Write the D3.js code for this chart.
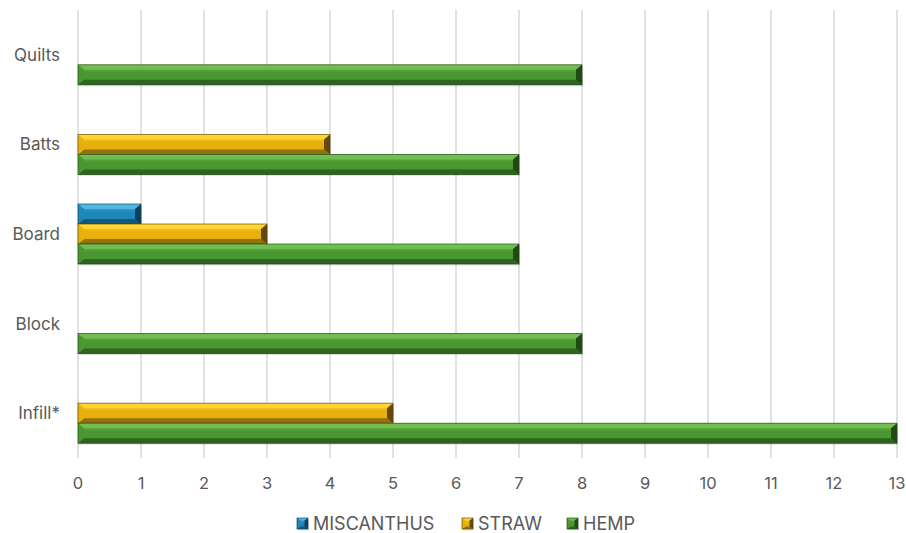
<!DOCTYPE html>
<html><head><meta charset="utf-8">
<script src="https://cdn.jsdelivr.net/npm/d3@7"></script>
<style>body{margin:0;background:#fff}svg{display:block}</style>
</head><body>
<svg id="c" width="906" height="533"></svg>
<script>
const categories = ["Quilts","Batts","Board","Block","Infill*"];
const seriesNames = ["MISCANTHUS","STRAW","HEMP"];
const miscanthus = [0,0,1,0,0];
const straw = [0,4,3,0,5];
const hemp = [8,7,7,8,13];
const xTicks = [0,1,2,3,4,5,6,7,8,9,10,11,12,13];

const seriesValues = [miscanthus, straw, hemp];
const palette = {
  MISCANTHUS:{light:"#52b8e4", mid:"#1f86b8", dark:"#13597c", edge:"#0c3d57"},
  STRAW:{light:"#ffd633", mid:"#e8b00c", dark:"#96700c", edge:"#5c4304"},
  HEMP:{light:"#72bf52", mid:"#4a9631", dark:"#2f6420", edge:"#1f4513"}
};
const font = "Inter, 'Open Sans', sans-serif";
const svg = d3.select("#c");
const defs = svg.append("defs");
seriesNames.forEach((s,i)=>{
  const p = palette[s];
  const g = defs.append("linearGradient").attr("id","g"+i).attr("x1",0).attr("y1",0).attr("x2",0).attr("y2",1);
  g.append("stop").attr("offset","0%").attr("stop-color",p.light);
  g.append("stop").attr("offset","40%").attr("stop-color",p.mid);
  g.append("stop").attr("offset","100%").attr("stop-color",p.mid);
});

const x = d3.scaleLinear().domain([0,13]).range([78,897]);
const y = d3.scaleBand().domain(categories).range([10,458]).paddingInner(0.33).paddingOuter(0.165);
const ys = d3.scaleBand().domain(seriesNames).range([0,y.bandwidth()]);

// gridlines
svg.append("g").selectAll("line").data(xTicks).join("line")
  .attr("x1",d=>x(d)).attr("x2",d=>x(d)).attr("y1",10).attr("y2",458)
  .attr("stroke","#d9d9d9").attr("stroke-width",1.5);

// tick labels
svg.append("g").selectAll("text").data(xTicks).join("text")
  .attr("x",d=>x(d)).attr("y",489).attr("text-anchor","middle")
  .attr("font-family",font).attr("font-size",16.5).attr("fill","#595959").text(d=>d);

// category labels
svg.append("g").selectAll("text").data(categories).join("text")
  .attr("x",60).attr("y",d=>y(d)+y.bandwidth()/2+6).attr("text-anchor","end")
  .attr("font-family",font).attr("font-size",17).attr("fill","#595959").text(d=>d);

function bevel(g, x0, y0, x1, y1, si, b){
  const p = palette[seriesNames[si]];
  const bh = Math.min(b, (y1-y0)/3);
  const bw = Math.min(b+1, (x1-x0)/3);
  g.append("rect").attr("x",x0+1).attr("y",y0+1.5).attr("width",x1-x0).attr("height",y1-y0)
    .attr("fill","#000").attr("opacity",0.12);
  g.append("rect").attr("x",x0).attr("y",y0).attr("width",x1-x0).attr("height",y1-y0).attr("fill","url(#g"+si+")");
  const poly = (pts,fill,op)=>g.append("polygon").attr("points",pts.map(q=>q.join(",")).join(" ")).attr("fill",fill).attr("opacity",op);
  poly([[x0,y0],[x1,y0],[x1-bw,y0+bh],[x0+bw,y0+bh]], p.light, 0.9);
  poly([[x0,y1],[x1,y1],[x1-bw,y1-bh],[x0+bw,y1-bh]], p.dark, 1);
  poly([[x0,y0],[x0+bw,y0+bh],[x0+bw,y1-bh],[x0,y1]], p.mid, 0.9);
  poly([[x1,y0],[x1-bw,y0+bh],[x1-bw,y1-bh],[x1,y1]], p.edge, 0.95);
  g.append("rect").attr("x",x0).attr("y",y0).attr("width",x1-x0).attr("height",y1-y0)
    .attr("fill","none").attr("stroke",p.edge).attr("stroke-width",0.8).attr("opacity",0.8);
}

const bars = svg.append("g");
categories.forEach((c,ci)=>{
  seriesNames.forEach((s,si)=>{
    const v = seriesValues[si][ci];
    if(!v) return;
    const y0 = y(c)+ys(s);
    bevel(bars.append("g"), x(0), y0, x(v), y0+ys.bandwidth(), si, 5);
  });
});

// legend
const legendItems = [{s:"MISCANTHUS",x:297},{s:"STRAW",x:462},{s:"HEMP",x:567}];
const lg = svg.append("g");
legendItems.forEach((it,i)=>{
  const si = seriesNames.indexOf(it.s);
  bevel(lg.append("g"), it.x, 518, it.x+11, 529, si, 2.5);
  lg.append("text").attr("x",it.x+16).attr("y",530)
    .attr("font-family",font).attr("font-size",18).attr("fill","#595959").text(it.s);
});
</script>
</body></html>
